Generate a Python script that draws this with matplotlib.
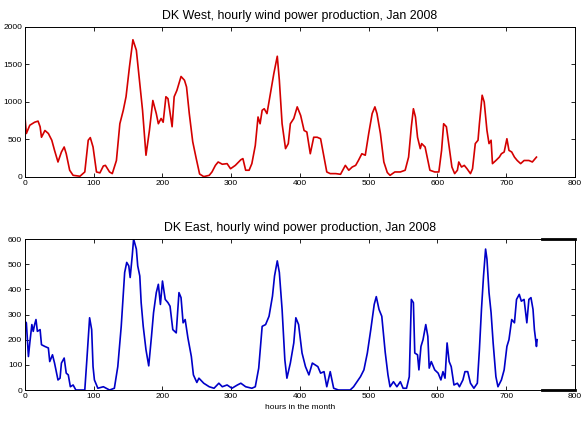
import matplotlib
matplotlib.use("Agg")
import matplotlib.pyplot as plt

# DK West hourly production (MW), Jan 2008
west_hours = [0, 2, 7, 14, 19, 22, 24, 29, 34, 39, 43, 48, 53, 57, 60, 65, 70, 80, 87, 92,
              95, 99, 104, 109, 114, 117, 123, 127, 133, 138, 143, 147, 152, 157, 162, 167,
              171, 176, 181, 186, 191, 194, 198, 201, 205, 208, 214, 217, 221, 227, 232, 235,
              239, 244, 249, 254, 260, 268, 272, 277, 281, 287, 294, 299, 306, 314, 317, 321,
              326, 330, 335, 339, 342, 345, 348, 352, 357, 362, 367, 370, 374, 379, 383, 386,
              391, 396, 401, 406, 410, 415, 420, 425, 430, 435, 439, 444, 452, 459, 466, 471,
              476, 481, 485, 490, 495, 500, 505, 509, 512, 517, 522, 527, 531, 538, 546, 553,
              558, 562, 565, 568, 571, 575, 577, 582, 586, 589, 596, 602, 606, 609, 613, 617,
              621, 625, 629, 631, 635, 639, 643, 648, 651, 655, 659, 661, 665, 668, 672, 675,
              678, 680, 685, 690, 693, 697, 701, 704, 708, 712, 716, 721, 726, 733, 738, 744]
west_mw = [800, 580, 690, 730, 745, 670, 530, 620, 580, 490, 355, 200, 333, 400, 310, 90, 22, 10, 67, 490,
           525, 400, 67, 55, 147, 155, 67, 45, 220, 710, 890, 1070, 1470, 1830, 1690, 1245,
           890, 290, 620, 1020, 845, 710, 780, 730, 1070, 1045, 670, 1070, 1155, 1340, 1290, 1200,
           845, 470, 250, 40, 5, 22, 67, 155, 200, 170, 178, 110, 155, 230, 245, 90,
           90, 178, 420, 800, 710, 890, 910, 845, 1110, 1380, 1610, 1290, 710, 378, 445, 710,
           780, 935, 820, 620, 600, 310, 530, 530, 510, 265, 67, 45, 45, 36, 155, 90,
           133, 155, 220, 310, 290, 580, 845, 935, 845, 580, 200, 60, 22, 67, 67, 90,
           265, 670, 910, 800, 530, 378, 445, 400, 220, 90, 67, 67, 355, 710, 670, 400,
           133, 45, 90, 200, 133, 155, 110, 45, 110, 445, 490, 710, 1090, 1000, 620, 445,
           490, 178, 220, 265, 310, 333, 510, 355, 333, 265, 220, 178, 220, 220, 200, 265]

# DK East hourly production (MW), Jan 2008
east_hours = [0, 2, 5, 7, 10, 12, 14, 16, 18, 22, 24, 29, 34, 36, 40, 43, 48, 51, 53, 57,
              60, 63, 66, 70, 74, 80, 87, 90, 94, 97, 99, 101, 106, 114, 118, 123, 130, 135,
              140, 145, 148, 151, 153, 156, 158, 162, 164, 167, 169, 172, 176, 180, 184, 187,
              191, 194, 197, 200, 204, 208, 211, 215, 220, 224, 227, 230, 233, 237, 242, 245,
              250, 253, 260, 268, 275, 282, 287, 294, 301, 309, 314, 321, 330, 335, 340, 345,
              350, 355, 360, 363, 367, 370, 374, 378, 381, 386, 391, 394, 398, 403, 408, 413,
              418, 422, 426, 430, 435, 439, 444, 449, 456, 466, 473, 478, 483, 488, 493, 498,
              503, 508, 511, 515, 519, 524, 528, 531, 536, 541, 546, 550, 555, 559, 562, 565,
              567, 571, 573, 576, 579, 583, 586, 588, 591, 596, 601, 605, 608, 611, 614, 617,
              620, 624, 629, 632, 637, 640, 644, 648, 653, 658, 661, 664, 667, 670, 672, 675,
              678, 681, 685, 688, 693, 697, 701, 704, 708, 712, 715, 719, 722, 726, 730, 733,
              736, 739, 741, 744, 745]
east_mw = [273, 267, 133, 187, 260, 233, 260, 280, 233, 240, 180, 173, 167, 113, 140, 107, 40, 47, 107, 127,
           67, 60, 13, 20, 0, 0, 0, 120, 287, 240, 93, 40, 7, 13, 7, 0, 7, 93,
           253, 467, 507, 493, 447, 533, 600, 560, 493, 453, 347, 253, 160, 96, 213, 307,
           387, 420, 340, 433, 360, 347, 333, 240, 227, 387, 367, 267, 280, 207, 133, 60,
           30, 47, 27, 13, 7, 27, 13, 20, 7, 20, 27, 13, 7, 13, 87, 253,
           260, 293, 373, 453, 513, 467, 320, 120, 47, 107, 187, 287, 260, 147, 93, 60,
           107, 100, 93, 67, 73, 13, 73, 7, 0, 0, 0, 13, 33, 53, 80, 147,
           240, 340, 371, 320, 293, 150, 60, 13, 33, 13, 33, 7, 7, 53, 360, 347,
           147, 140, 80, 173, 200, 260, 213, 87, 113, 80, 67, 40, 73, 47, 187, 113,
           93, 20, 27, 13, 40, 73, 73, 27, 7, 27, 160, 320, 453, 560, 520, 387,
           307, 187, 53, 13, 40, 80, 173, 200, 280, 267, 360, 380, 353, 360, 267, 360,
           367, 320, 240, 173, 200]

x_ticks = list(range(0, 801, 100))

tick_font = {"family": ["Liberation Sans Narrow", "Liberation Sans"], "size": 6}


def style_axes(ax, yticks):
    ax.set_xlim(0, 800)
    ax.set_xticks(x_ticks)
    ax.set_yticks(yticks)
    ax.set_ylim(yticks[0], yticks[-1])
    ax.tick_params(direction="in", top=True, right=True, length=3, width=0.6, pad=2)
    for lab in ax.get_xticklabels() + ax.get_yticklabels():
        lab.set_fontproperties(tick_font)
    for sp in ax.spines.values():
        sp.set_linewidth(0.7)


fig = plt.figure(figsize=(5.81, 4.21), dpi=100)

ax1 = fig.add_axes([0.043, 0.5796, 0.9466, 0.3563])
ax1.plot(west_hours, west_mw, color="#d40000", lw=1.2)
style_axes(ax1, [0, 500, 1000, 1500, 2000])
ax1.set_title("DK West, hourly wind power production, Jan 2008",
              family="Liberation Sans", fontsize=8.9, pad=6)

ax2 = fig.add_axes([0.043, 0.0736, 0.9466, 0.3587])
ax2.plot(east_hours, east_mw, color="#0000c8", lw=1.2)
style_axes(ax2, [0, 100, 200, 300, 400, 500, 600])
ax2.set_title("DK East, hourly wind power production, Jan 2008",
              family="Liberation Sans", fontsize=8.9, pad=6)
ax2.set_xlabel("hours in the month", family="Liberation Sans", fontsize=6, labelpad=3)

# heavy black marks on the right end of the lower frame
ax2.plot([752, 800], [600, 600], color="black", lw=2, clip_on=False)
ax2.plot([752, 800], [0, 0], color="black", lw=2, clip_on=False)

fig.savefig("out.png", dpi=100, facecolor="white")
